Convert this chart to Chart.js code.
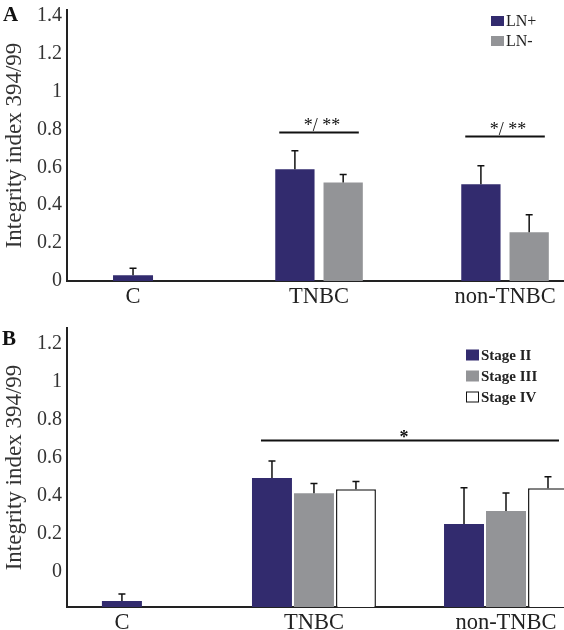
<!DOCTYPE html>
<html>
<head>
<meta charset="utf-8">
<script src="https://cdn.jsdelivr.net/npm/chart.js@4.4.1/dist/chart.umd.min.js"></script>
<style>
  html, body { margin:0; padding:0; background:#fff; width:564px; height:630px; overflow:hidden; }
  #wa { position:absolute; left:0; top:0; width:564px; height:312px; }
  #wb { position:absolute; left:0; top:300px; width:564px; height:330px; }
</style>
</head>
<body>
<div id="wa"><canvas id="ca"></canvas></div>
<div id="wb"><canvas id="cb"></canvas></div>
<script>
// ---- data ----
const categories = ['C', 'TNBC', 'non-TNBC'];

// Panel A
const lnPos    = [0.03, 0.59, 0.51];
const lnPosErr = [0.037, 0.097, 0.098];
const lnNeg    = [null, 0.52, 0.257];
const lnNegErr = [null, 0.042, 0.092];
const aYTicks  = [0, 0.2, 0.4, 0.6, 0.8, 1, 1.2, 1.4];
const aSig     = [{cat: 1, y: 0.785, text: '*/ **'}, {cat: 2, y: 0.766, text: '*/ **'}];

// Panel B (values as read against the printed tick labels)
const stage2    = [-0.152, 0.493, 0.252];
const stage2Err = [0.037, 0.09, 0.19];
const stage3    = [null, 0.414, 0.32];
const stage3Err = [null, 0.05, 0.095];
const stage4    = [null, 0.435, 0.44];
const stage4Err = [null, 0.04, 0.06];
const bYTicks   = [0, 0.2, 0.4, 0.6, 0.8, 1, 1.2];
const bAxisMin  = -0.183;
const bSig      = [{from: 1, to: 2, y: 0.695, text: '*'}];

// ---- styling ----
const NAVY = '#322b6e', GRAY = '#939497', INK = '#222';
const SERIF = "'Liberation Serif', 'Times New Roman', serif";

function pts(vals) { return categories.map((c, i) => ({x: i, y: vals[i]})); }

const panelPlugin = {
  id: 'panel',
  afterDatasetsDraw(chart, args, o) {
    const ctx = chart.ctx, ys = chart.scales.y;
    ctx.save();
    // error bars
    ctx.strokeStyle = '#111'; ctx.lineWidth = 1.5;
    chart.data.datasets.forEach((ds, di) => {
      const meta = chart.getDatasetMeta(di);
      meta.data.forEach((bar, i) => {
        const v = ds.data[i].y, e = ds.errors[i];
        if (v == null || e == null) return;
        const top = ys.getPixelForValue(v + e);
        ctx.beginPath();
        ctx.moveTo(bar.x, bar.y); ctx.lineTo(bar.x, top);
        ctx.moveTo(bar.x - 3.5, top); ctx.lineTo(bar.x + 3.5, top);
        ctx.stroke();
      });
    });
    // significance lines
    const catEdges = (cat) => {
      let l = Infinity, r = -Infinity;
      chart.data.datasets.forEach((ds, di) => {
        const bar = chart.getDatasetMeta(di).data[cat];
        if (ds.data[cat].y == null || !bar) return;
        l = Math.min(l, bar.x - bar.width / 2); r = Math.max(r, bar.x + bar.width / 2);
      });
      return [l, r];
    };
    (o.sig || []).forEach(s => {
      const a = catEdges(s.from != null ? s.from : s.cat);
      const b = catEdges(s.to != null ? s.to : s.cat);
      const x1 = a[0] + o.inset, x2 = b[1] - o.inset;
      const y = Math.round(ys.getPixelForValue(s.y)) + 0.5;
      ctx.strokeStyle = '#111'; ctx.lineWidth = 2;
      ctx.beginPath(); ctx.moveTo(x1, y); ctx.lineTo(x2, y); ctx.stroke();
      ctx.fillStyle = '#111'; ctx.font = o.sigFont; ctx.textAlign = 'center'; ctx.textBaseline = 'alphabetic';
      ctx.fillText(s.text, (x1 + x2) / 2 + (o.sigDx || 0), y + o.sigDy);
    });
    // legend
    const L = o.legend;
    chart.data.datasets.forEach((ds, di) => {
      const cy = L.y + di * L.gap;
      ctx.fillStyle = ds.backgroundColor;
      ctx.fillRect(L.x, cy - L.bh / 2, L.bw, L.bh);
      if (ds.backgroundColor === '#ffffff') {
        ctx.strokeStyle = '#111'; ctx.lineWidth = 1;
        ctx.strokeRect(L.x + 0.5, cy - L.bh / 2 + 0.5, L.bw - 1, L.bh - 1);
      }
      ctx.fillStyle = '#222'; ctx.font = L.font; ctx.textAlign = 'left'; ctx.textBaseline = 'middle';
      ctx.fillText(ds.label, L.x + L.bw + 2, cy + 1);
    });
    // panel letter
    ctx.fillStyle = '#111'; ctx.font = "bold 21px " + SERIF; ctx.textAlign = 'left'; ctx.textBaseline = 'alphabetic';
    ctx.fillText(o.letter.text, o.letter.x, o.letter.y);
    ctx.restore();
  }
};

function makeOptions(p) {
  return {
    responsive: true, maintainAspectRatio: false, animation: false,
    layout: { padding: { left: 0, right: 0, top: p.top, bottom: 0 } },
    datasets: { bar: { skipNull: true, maxBarThickness: 40, categoryPercentage: p.catPct, barPercentage: p.barPct } },
    plugins: { legend: { display: false }, tooltip: { enabled: false }, panel: p.panel },
    scales: {
      x: {
        type: 'linear', min: p.xmin, max: p.xmax, offset: false,
        grid: { display: false, drawTicks: false, offset: false },
        border: { display: true, color: INK, width: 2 },
        afterBuildTicks: s => { s.ticks = categories.map((c, i) => ({value: i})); },
        afterFit: s => { s.height = p.xh; s.paddingLeft = 0; s.paddingRight = 0; },
        ticks: { autoSkip: false, maxRotation: 0, padding: 3, color: '#222',
                 font: { family: SERIF, size: 22.5 }, callback: v => categories[v] },
      },
      y: {
        min: p.ymin, max: p.ymax,
        grid: { display: false, drawTicks: false },
        border: { display: true, color: INK, width: 2 },
        afterBuildTicks: s => { s.ticks = p.yticks.map(v => ({value: v})); },
        afterFit: s => { s.width = 67; s.paddingTop = 0; s.paddingBottom = 0; },
        ticks: { padding: 5, color: '#333', font: { family: SERIF, size: 20 },
                 callback: v => String(+v.toFixed(1)) },
        title: { display: true, text: 'Integrity index 394/99', color: '#333',
                 font: { family: SERIF, size: 23 }, padding: { top: 1, bottom: 0 } },
      }
    }
  };
}

new Chart(document.getElementById('ca'), {
  type: 'bar',
  data: {
    datasets: [
      { label: 'LN+', data: pts(lnPos), errors: lnPosErr, backgroundColor: NAVY, borderWidth: 0 },
      { label: 'LN-', data: pts(lnNeg), errors: lnNegErr, backgroundColor: GRAY, borderWidth: 0 },
    ]
  },
  options: makeOptions({
    top: 10, xh: 31, xmin: -0.355, xmax: 2.317, ymin: 0, ymax: 1.43, yticks: aYTicks,
    catPct: 0.519, barPct: 0.814,
    panel: {
      sig: aSig, inset: 4, sigFont: "18px " + SERIF, sigDy: -2, sigDx: 3,
      legend: { x: 491, y: 21, gap: 20, bw: 13, bh: 10, font: "16px " + SERIF },
      letter: { text: 'A', x: 3, y: 21 }
    }
  }),
  plugins: [panelPlugin]
});

new Chart(document.getElementById('cb'), {
  type: 'bar',
  data: {
    datasets: [
      { label: 'Stage II',  data: pts(stage2), errors: stage2Err, backgroundColor: NAVY, borderWidth: 0, base: bAxisMin },
      { label: 'Stage III', data: pts(stage3), errors: stage3Err, backgroundColor: GRAY, borderWidth: 0, base: bAxisMin },
      { label: 'Stage IV',  data: pts(stage4), errors: stage4Err, backgroundColor: '#ffffff', borderColor: '#222', borderWidth: 1.5, base: bAxisMin },
    ]
  },
  options: makeOptions({
    top: 28, xh: 23, xmin: -0.286, xmax: 2.302, ymin: bAxisMin, ymax: 1.28, yticks: bYTicks,
    catPct: 0.656, barPct: 0.952,
    panel: {
      sig: bSig, inset: 9, sigFont: "bold 18px " + SERIF, sigDy: 2, sigDx: -6,
      legend: { x: 466, y: 55, gap: 21, bw: 13, bh: 11, font: "bold 15px " + SERIF },
      letter: { text: 'B', x: 2, y: 45 }
    }
  }),
  plugins: [panelPlugin]
});
</script>
</body>
</html>
